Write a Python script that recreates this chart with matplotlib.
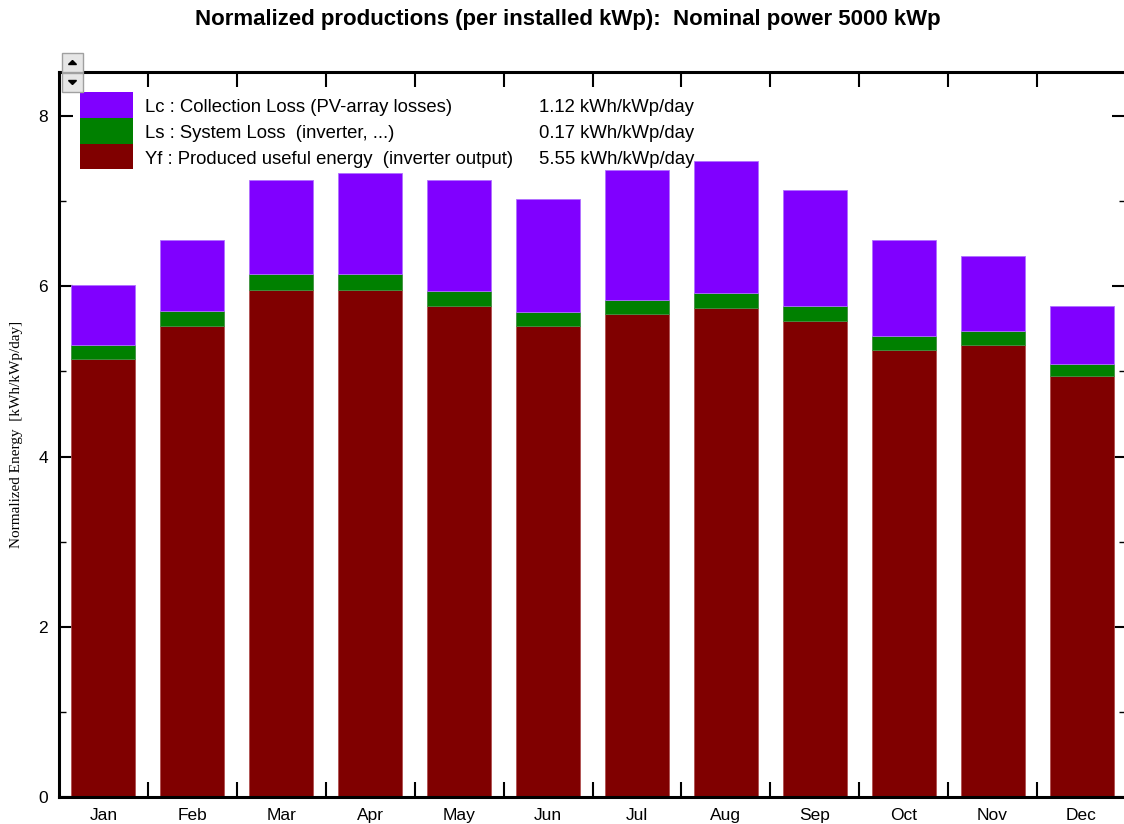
import matplotlib
matplotlib.use("Agg")
import matplotlib.pyplot as plt
from matplotlib.patches import Rectangle, Polygon
from matplotlib.ticker import FixedLocator, NullFormatter
import numpy as np

months = ["Jan", "Feb", "Mar", "Apr", "May", "Jun", "Jul", "Aug", "Sep", "Oct", "Nov", "Dec"]
yf = [5.15, 5.53, 5.96, 5.96, 5.77, 5.53, 5.67, 5.75, 5.59, 5.25, 5.31, 4.95]
ls = [0.16, 0.18, 0.18, 0.18, 0.17, 0.17, 0.17, 0.17, 0.18, 0.16, 0.16, 0.14]
lc = [0.70, 0.83, 1.11, 1.19, 1.31, 1.33, 1.53, 1.55, 1.36, 1.13, 0.89, 0.68]

legend_labels = ["Lc : Collection Loss (PV-array losses)",
                 "Ls : System Loss  (inverter, ...)",
                 "Yf : Produced useful energy  (inverter output)"]
legend_values = ["1.12 kWh/kWp/day", "0.17 kWh/kWp/day", "5.55 kWh/kWp/day"]
title = "Normalized productions (per installed kWp):  Nominal power 5000 kWp"
ylabel = "Normalized Energy  [kWh/kWp/day]"

c_lc = "#8000FF"
c_ls = "#008000"
c_yf = "#800000"

W, H = 1124, 824
fig = plt.figure(figsize=(W / 100, H / 100), dpi=100)
plt.rcParams['font.family'] = ['Liberation Sans', 'DejaVu Sans']

def fx(px):
    return px / W

def fy(py):
    return 1 - py / H

ax = fig.add_axes([fx(59), fy(797), (1126 - 59) / W, (797 - 72) / H])

x = np.arange(len(months))
yf_a = np.array(yf)
ls_a = np.array(ls)
lc_a = np.array(lc)
bw = 0.72
ax.bar(x, yf_a, width=bw, color=c_yf, edgecolor="#b05050", linewidth=0.6, zorder=2)
ax.bar(x, ls_a, width=bw, bottom=yf_a, color=c_ls, edgecolor="#409040", linewidth=0.6, zorder=2)
ax.bar(x, lc_a, width=bw, bottom=yf_a + ls_a, color=c_lc, edgecolor="#b070ff", linewidth=0.6, zorder=2)

ax.set_xlim(-0.5, len(months) - 0.5)
ax.set_ylim(0, 8.517)

ax.xaxis.set_major_locator(FixedLocator(np.arange(0.5, len(months) - 0.5, 1.0)))
ax.xaxis.set_major_formatter(NullFormatter())
ax.xaxis.set_minor_locator(FixedLocator(x))
ax.set_xticklabels(months, minor=True)
ax.tick_params(axis="x", which="major", direction="in", length=11, width=1.5,
               top=True, bottom=True, color="black")
ax.tick_params(axis="x", which="minor", length=0, pad=8, labelsize=12.5)

ax.set_yticks([0, 2, 4, 6, 8])
ax.set_yticks([1, 3, 5, 7], minor=True)
ax.tick_params(axis="y", which="major", direction="in", length=10, width=1.5,
               left=True, right=True, labelsize=12.5, pad=8)
ax.tick_params(axis="y", which="minor", direction="in", length=5, width=1.0,
               left=True, right=True)

for side in ["left", "top", "bottom", "right"]:
    ax.spines[side].set_linewidth(2.2)
    ax.spines[side].set_color("black")

fig.text(fx(17), fy(434), ylabel, rotation=90, ha="center", va="center",
         fontsize=11, family=["Liberation Serif", "DejaVu Serif"])

fig.text(fx(568), fy(20), title, ha="center", va="center", fontsize=16,
         fontweight="bold")

box_x0, box_x1 = 80, 133
rows = [(92, 118, c_lc), (118, 144, c_ls), (144, 169, c_yf)]
for (t, b, col), lab, val in zip(rows, legend_labels, legend_values):
    fig.patches.append(Rectangle((fx(box_x0), fy(b)), fx(box_x1) - fx(box_x0), fy(t) - fy(b),
                                 transform=fig.transFigure, facecolor=col, edgecolor="none",
                                 zorder=5))
    yc = (t + b) / 2 + 2.5
    fig.text(fx(145), fy(yc), lab, ha="left", va="center", fontsize=13.3, zorder=6)
    fig.text(fx(694), fy(yc), val, ha="right", va="center", fontsize=13.3, zorder=6)

for (t, b, up) in [(53, 72, True), (73, 92, False)]:
    fig.patches.append(Rectangle((fx(62), fy(b)), fx(83) - fx(62), fy(t) - fy(b),
                                 transform=fig.transFigure, facecolor="#e6e6e6",
                                 edgecolor="#a0a0a0", linewidth=1.0, zorder=7))
    cx, cy = 72.5, (t + b) / 2
    if up:
        pts = [(fx(cx - 4), fy(cy + 2)), (fx(cx + 4), fy(cy + 2)), (fx(cx), fy(cy - 2))]
    else:
        pts = [(fx(cx - 4), fy(cy - 2)), (fx(cx + 4), fy(cy - 2)), (fx(cx), fy(cy + 2))]
    fig.patches.append(Polygon(pts, closed=True, transform=fig.transFigure,
                               facecolor="black", edgecolor="black", zorder=8))

fig.savefig("out.png", dpi=100)
